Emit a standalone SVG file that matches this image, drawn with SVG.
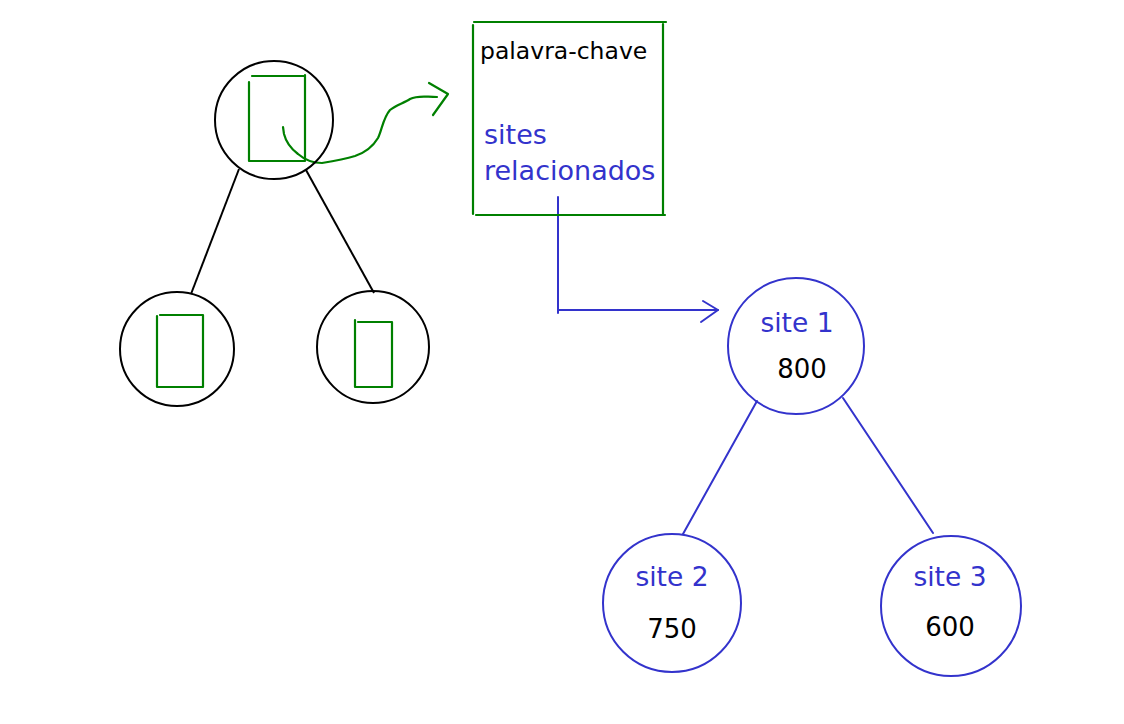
<svg xmlns="http://www.w3.org/2000/svg" width="1124" height="724" viewBox="0 0 1124 724">
<style>
.k{fill:none;stroke:#000;stroke-width:2}
.g{fill:none;stroke:#008000;stroke-width:2.2;stroke-linecap:round;stroke-linejoin:round}
.b{fill:none;stroke:#3333cc;stroke-width:2;stroke-linecap:round;stroke-linejoin:round}
text{font-family:"DejaVu Sans","Liberation Sans",sans-serif}
.tb{fill:#3333cc;font-size:26.5px}
.tk{fill:#000;font-size:26px}
</style>
<rect width="1124" height="724" fill="#fff"/>
<g id="connectors">
<line class="k" x1="239" y1="169" x2="191" y2="294"/>
<line class="k" x1="306" y1="170" x2="374" y2="293"/>
<path class="g" d="M283,127 L284,134 C286,142 290,148 298,154 C305,160 312,163 322,163 C334,161 345,159 355,156 C364,153 372,148 378,138 C382,130 383,118 390,110 C396,105 404,103 410,99 C418,95 425,97 437,97"/>
<path class="g" d="M429,83 L448,94 L433,115"/>
<path class="b" d="M558,197 L558,313 M558,310 L718,310"/>
<path class="b" d="M703,301 L718,310 L701,322"/>
<line class="b" x1="757" y1="401" x2="683" y2="534"/>
<line class="b" x1="843" y1="398" x2="933" y2="533"/>
</g>
<g id="root">
<circle class="k" cx="274" cy="120" r="59"/>
<path class="g" d="M249,82 V161 H305 V75 M252,76 H305"/>
</g>
<g id="left">
<circle class="k" cx="177" cy="349" r="57"/>
<path class="g" d="M157,316 V387 H203 V315 M160,315 H203"/>
</g>
<g id="right">
<circle class="k" cx="373" cy="347" r="56"/>
<path class="g" d="M355,320 V387 H392 V322 H358"/>
</g>
<g id="keyword">
<path class="g" d="M474,22 H666 M473,25 V214 M663,24 V214 M476,215 H665"/>
<text x="480" y="59" style="font-size:23.5px;fill:#000">palavra-chave</text>
<text x="484" y="144" style="font-size:27px;fill:#3333cc">sites</text>
<text x="484" y="180" style="font-size:27px;fill:#3333cc">relacionados</text>
</g>
<g id="site1">
<circle class="b" cx="796" cy="346" r="68"/>
<text class="tb" x="797" y="332" text-anchor="middle">site 1</text>
<text class="tk" x="802" y="378" text-anchor="middle">800</text>
</g>
<g id="site2">
<circle class="b" cx="672" cy="603" r="69"/>
<text class="tb" x="672" y="586" text-anchor="middle">site 2</text>
<text class="tk" x="672" y="638" text-anchor="middle">750</text>
</g>
<g id="site3">
<circle class="b" cx="951" cy="606" r="70"/>
<text class="tb" x="950" y="586" text-anchor="middle">site 3</text>
<text class="tk" x="950" y="636" text-anchor="middle">600</text>
</g>
</svg>
